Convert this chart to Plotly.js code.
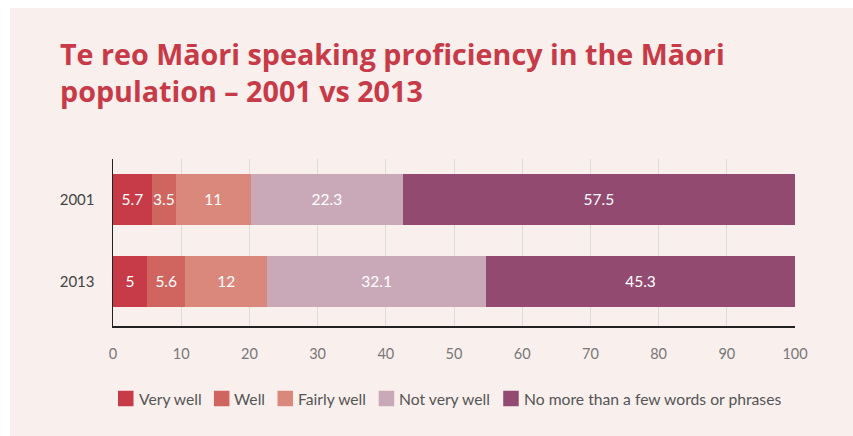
<!DOCTYPE html>
<html>
<head>
<meta charset="utf-8">
<script src="https://cdn.plot.ly/plotly-3.0.1.min.js"></script>
<style>
  html, body { margin: 0; padding: 0; background: #ffffff; }
  #chart { position: absolute; left: 10px; top: 8px; width: 843px; height: 428px; }
</style>
</head>
<body>
<div id="chart"></div>
<script>
const years = ["2001", "2013"];
const seriesNames = ["Very well", "Well", "Fairly well", "Not very well", "No more than a few words or phrases"];
const veryWell = [5.7, 5];
const well = [3.5, 5.6];
const fairlyWell = [11, 12];
const notVeryWell = [22.3, 32.1];
const fewWords = [57.5, 45.3];
const colors = ["#c63b47", "#d06560", "#da887c", "#c9a9b8", "#934a70"];
const xTicks = [0, 10, 20, 30, 40, 50, 60, 70, 80, 90, 100];

const seriesValues = [veryWell, well, fairlyWell, notVeryWell, fewWords];
const font = "Lato, 'Open Sans', sans-serif";
const titleFont = "'Open Sans', Lato, sans-serif";

// figure geometry (pixels inside the chart div)
const W = 843, H = 428;
const M = { l: 103, r: 58, t: 151, b: 110 };
const plotW = W - M.l - M.r, plotH = H - M.t - M.b;

const data = seriesValues.map((vals, i) => ({
  type: "bar",
  orientation: "h",
  name: seriesNames[i],
  y: years,
  x: vals,
  marker: { color: colors[i], line: { width: 0 } },
  text: vals.map(v => String(v)),
  textposition: "inside",
  insidetextanchor: "middle",
  textangle: 0,
  textfont: { color: "#ffffff", size: 15.5, family: font },
  hoverinfo: "none",
  showlegend: false
}));

// custom legend: swatch + tightly placed label, built from seriesNames/colors
const legendFontSize = 15.7;
const ctx = document.createElement("canvas").getContext("2d");
ctx.font = legendFontSize + "px Lato";
const sw = 15.5, swGap = 4, itemGap = 13;
const legendCenterY = 390.5; // div px
let cursor = 108;
const shapes = [], annotations = [];
const toPX = px => (px - M.l) / plotW;
const toPY = py => (H - M.b - py) / plotH;
seriesNames.forEach((name, i) => {
  shapes.push({
    type: "rect", xref: "paper", yref: "paper",
    x0: toPX(cursor), x1: toPX(cursor + sw),
    y0: toPY(legendCenterY - sw / 2), y1: toPY(legendCenterY + sw / 2),
    fillcolor: colors[i], line: { width: 0 }
  });
  const tx = cursor + sw + swGap;
  annotations.push({
    xref: "paper", yref: "paper", x: toPX(tx - 1), y: toPY(legendCenterY),
    xanchor: "left", yanchor: "middle", showarrow: false,
    text: name, font: { family: font, size: legendFontSize, color: "#555555" }
  });
  cursor = tx + ctx.measureText(name).width + itemGap;
});

const layout = {
  barmode: "stack",
  bargap: 0.377,
  paper_bgcolor: "#f9efed",
  plot_bgcolor: "#f9efed",
  margin: M,
  showlegend: false,
  font: { family: font },
  uniformtext: { mode: "show", minsize: 15.5 },
  title: {
    text: "Te reo Māori speaking proficiency in the Māori<br>population – 2001 vs 2013",
    font: { family: titleFont, size: 28.7, color: "#c73a47", weight: 700 },
    xref: "container", x: 50 / W, xanchor: "left",
    yref: "container", y: 1 - 57 / H, yanchor: "top"
  },
  xaxis: {
    range: [0, 100],
    tickvals: xTicks,
    ticktext: xTicks.map(String),
    showgrid: true,
    gridcolor: "#dcdcdc",
    gridwidth: 1,
    zeroline: false,
    showline: true,
    linecolor: "#222222",
    linewidth: 1.5,
    ticks: "",
    ticklabelstandoff: 14,
    tickfont: { family: font, size: 14.5, color: "#777777" },
    fixedrange: true
  },
  yaxis: {
    type: "category",
    range: [1.543, -0.491],
    showgrid: false,
    zeroline: false,
    showline: true,
    linecolor: "#222222",
    linewidth: 1.5,
    ticks: "",
    ticklabelstandoff: 14,
    tickfont: { family: font, size: 15, color: "#444444" },
    fixedrange: true
  },
  shapes: shapes,
  annotations: annotations
};

Plotly.newPlot("chart", data, layout, { displayModeBar: false, staticPlot: true });
</script>
</body>
</html>
